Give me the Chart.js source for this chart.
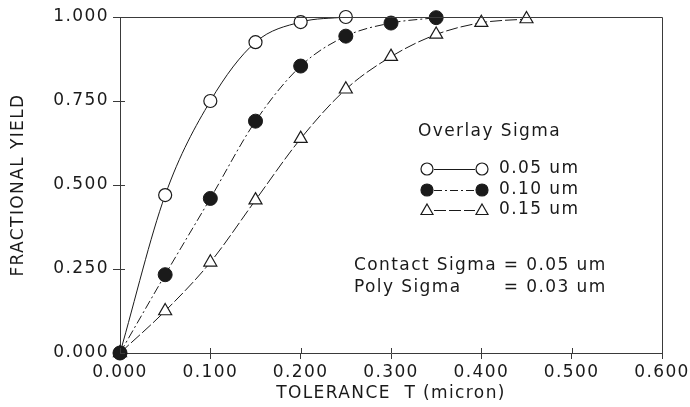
<!DOCTYPE html>
<html>
<head>
<meta charset="utf-8">
<script src="https://cdn.jsdelivr.net/npm/chart.js@4"></script>
<style>
  body { margin: 0; background: #fff; }
  #wrap { width: 690px; height: 407px; position: relative; }
</style>
</head>
<body>
<div id="wrap"><canvas id="yieldChart"></canvas></div>
<script>
// tolerance values (micron) and fractional yield per overlay sigma
const tolerance = [0, 0.05, 0.10, 0.15, 0.20, 0.25, 0.30, 0.35, 0.40, 0.45];
const yield005 = [0, 0.47, 0.75, 0.925, 0.985, 1.0];
const yield010 = [0, 0.233, 0.46, 0.69, 0.854, 0.943, 0.982, 0.998];
const yield015 = [0, 0.125, 0.27, 0.455, 0.638, 0.785, 0.882, 0.948, 0.983, 0.994];
const seriesLabels = ['0.05 um', '0.10 um', '0.15 um'];
const xTicks = [0, 0.1, 0.2, 0.3, 0.4, 0.5, 0.6];
const yTicks = [0, 0.25, 0.5, 0.75, 1.0];

const ink = '#1a1a1a';
const axisInk = '#3a3a3a';
const fontFamily = '"DejaVu Sans", sans-serif';
const letterGap = '1.4px';

function pairs(ys) {
  return ys.map((y, i) => ({ x: tolerance[i], y: y }));
}

// the old plotter font is wide, so spread the letters a little
const spacing = {
  id: 'spacing',
  beforeLayout(chart) { chart.ctx.letterSpacing = letterGap; },
  beforeDraw(chart) { chart.ctx.letterSpacing = letterGap; }
};

// box around plot, inner tick halves, legend and notes
const extras = {
  id: 'extras',
  afterDatasetsDraw(chart) {
    const ctx = chart.ctx;
    const a = chart.chartArea;
    ctx.save();
    ctx.strokeStyle = axisInk;
    ctx.lineWidth = 1;
    ctx.beginPath();
    ctx.moveTo(a.left, a.top + 0.5);
    ctx.lineTo(a.right + 0.5, a.top + 0.5);
    ctx.lineTo(a.right + 0.5, a.bottom);
    xTicks.forEach(v => {
      const x = Math.round(chart.scales.x.getPixelForValue(v)) + 0.5;
      ctx.moveTo(x, a.bottom);
      ctx.lineTo(x, a.bottom - 5);
    });
    yTicks.forEach(v => {
      const y = Math.round(chart.scales.y.getPixelForValue(v)) + 0.5;
      ctx.moveTo(a.left, y);
      ctx.lineTo(a.left + 5, y);
    });
    ctx.stroke();

    ctx.fillStyle = ink;
    ctx.font = '17px ' + fontFamily;
    ctx.textBaseline = 'middle';
    ctx.textAlign = 'left';
    ctx.fillText('Overlay Sigma', 418, 132);

    const rows = [169, 190, 210];
    const dashes = [[], [8, 3, 2, 3], [12, 3]];
    rows.forEach((y, i) => {
      ctx.strokeStyle = ink;
      ctx.lineWidth = 1;
      ctx.setLineDash(dashes[i]);
      ctx.beginPath();
      ctx.moveTo(434, y + 0.5);
      ctx.lineTo(475, y + 0.5);
      ctx.stroke();
      ctx.setLineDash([]);
      [427, 482].forEach(x => drawMark(ctx, i, x, y, 6));
      ctx.fillStyle = ink;
      ctx.fillText(seriesLabels[i], 499, y);
    });

    const first = 'Contact Sigma ';
    ctx.fillText(first + '= 0.05 um', 354, 266);
    ctx.fillText('Poly Sigma', 354, 288);
    ctx.fillText('= 0.03 um', 354 + ctx.measureText(first).width, 288);
    ctx.restore();
  }
};

function drawMark(ctx, kind, x, y, r) {
  ctx.save();
  ctx.lineWidth = 1.2;
  ctx.strokeStyle = ink;
  ctx.beginPath();
  if (kind === 2) {
    ctx.moveTo(x, y - r);
    ctx.lineTo(x + r, y + r * 0.75);
    ctx.lineTo(x - r, y + r * 0.75);
    ctx.closePath();
  } else {
    ctx.arc(x, y, r, 0, Math.PI * 2);
  }
  ctx.fillStyle = kind === 1 ? ink : '#fff';
  ctx.fill();
  ctx.stroke();
  ctx.restore();
}

Chart.defaults.font.family = fontFamily;
Chart.defaults.color = ink;

new Chart(document.getElementById('yieldChart'), {
  type: 'line',
  data: {
    datasets: [
      {
        label: seriesLabels[0],
        data: pairs(yield005),
        borderColor: ink,
        borderWidth: 1,
        pointStyle: 'circle',
        pointRadius: 6.5,
        pointBorderWidth: 1.2,
        pointBackgroundColor: '#fff',
        pointBorderColor: ink,
        cubicInterpolationMode: 'monotone',
        clip: false,
        order: 3
      },
      {
        label: seriesLabels[1],
        data: pairs(yield010),
        borderColor: ink,
        borderWidth: 1,
        borderDash: [9, 3, 2, 3],
        pointStyle: 'circle',
        pointRadius: 7,
        pointBackgroundColor: ink,
        pointBorderColor: ink,
        cubicInterpolationMode: 'monotone',
        clip: false,
        order: 1
      },
      {
        label: seriesLabels[2],
        data: pairs(yield015),
        borderColor: ink,
        borderWidth: 1,
        borderDash: [12, 3],
        pointStyle: 'triangle',
        pointRadius: 7.5,
        pointBorderWidth: 1.2,
        pointBackgroundColor: '#fff',
        pointBorderColor: ink,
        cubicInterpolationMode: 'monotone',
        clip: false,
        order: 2
      }
    ]
  },
  options: {
    responsive: true,
    maintainAspectRatio: false,
    animation: false,
    layout: { padding: { top: 17, right: 28, left: 0, bottom: 0 } },
    scales: {
      x: {
        type: 'linear',
        min: 0,
        max: 0.6,
        afterBuildTicks: s => { s.ticks = xTicks.map(v => ({ value: v })); },
        afterFit: s => { s.height = 54; s.paddingRight = 0; },
        ticks: {
          font: { size: 17 },
          padding: 3,
          maxRotation: 0,
          callback: v => Number(v).toFixed(3)
        },
        grid: { drawOnChartArea: false, tickLength: 6, color: axisInk },
        border: { color: axisInk, width: 1 },
        title: {
          display: true,
          text: 'TOLERANCE  T (micron)',
          font: { size: 17 },
          padding: { top: 0, bottom: 3 }
        }
      },
      y: {
        min: 0,
        max: 1,
        afterBuildTicks: s => { s.ticks = yTicks.map(v => ({ value: v })); },
        afterFit: s => { s.width = 120; },
        ticks: {
          font: { size: 17 },
          padding: 4,
          callback: v => Number(v).toFixed(3)
        },
        grid: { drawOnChartArea: false, tickLength: 7, color: axisInk },
        border: { color: axisInk, width: 1 },
        title: {
          display: true,
          text: 'FRACTIONAL YIELD',
          font: { size: 17 },
          padding: { top: 8, bottom: 0 }
        }
      }
    },
    plugins: {
      legend: { display: false },
      tooltip: { enabled: false }
    }
  },
  plugins: [spacing, extras]
});
</script>
</body>
</html>
